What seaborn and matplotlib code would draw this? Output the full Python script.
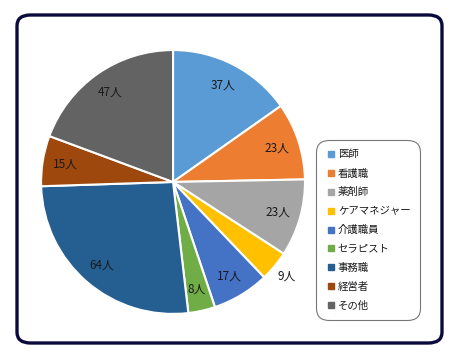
import numpy as np
import matplotlib
matplotlib.use('Agg')
import matplotlib.pyplot as plt
import seaborn as sns
from matplotlib.patches import FancyBboxPatch
from matplotlib.lines import Line2D

# data
categories = ['医師', '看護職', '薬剤師', 'ケアマネジャー', '介護職員', 'セラピスト', '事務職', '経営者', 'その他']
counts = [37, 23, 23, 9, 17, 8, 64, 15, 47]
value_labels = [f'{c}人' for c in counts]
outside = ['ケアマネジャー']  # label drawn outside the slice

sns.set_theme(style='white')
plt.rcParams['font.family'] = ['Noto Sans CJK JP', 'DejaVu Sans']

colors = sns.color_palette(['#5B9BD5', '#ED7D31', '#A5A5A5', '#FFC000', '#4472C4',
                            '#70AD47', '#255E91', '#9E480E', '#636363'])

fig = plt.figure(figsize=(4.5, 3.6), dpi=100)

# outer rounded frame
frame = FancyBboxPatch((17 / 450, 1 - 343 / 360), 425 / 450, 328 / 360,
                       boxstyle='round,pad=0,rounding_size=0.03',
                       transform=fig.transFigure, facecolor='none',
                       edgecolor='#0a0a3c', linewidth=2.4, zorder=5)
fig.patches.append(frame)

ax = fig.add_axes([0.091, 0.128, 0.587, 0.733])
wedges, _ = ax.pie(counts, colors=colors, startangle=90, counterclock=False,
                   radius=1.0, wedgeprops=dict(edgecolor='white', linewidth=1.5))
ax.set_xlim(-1, 1)
ax.set_ylim(-1, 1)
ax.set_aspect('equal')
ax.axis('off')

for w, lab, cat in zip(wedges, value_labels, categories):
    ang = np.deg2rad((w.theta1 + w.theta2) / 2)
    r = 1.12 if cat in outside else 0.83
    ax.text(r * np.cos(ang), r * np.sin(ang), lab, ha='center', va='center',
            fontsize=8.5, color='#1a1a1a', clip_on=False)

handles = [Line2D([0], [0], marker='s', linestyle='', markersize=5,
                  markerfacecolor=c, markeredgecolor=c) for c in colors]
leg = fig.legend(handles, categories, loc='upper left',
                 bbox_to_anchor=(316 / 450, 1 - 140 / 360),
                 frameon=True, fancybox=True, fontsize=7.5,
                 labelspacing=0.85, handletextpad=0.2, handlelength=1.0,
                 borderpad=0.9, borderaxespad=0)
for t in leg.get_texts():
    t.set_color('#1a1a1a')
leg.get_frame().set_edgecolor('#555555')
leg.get_frame().set_linewidth(0.8)
leg.get_frame().set_boxstyle('round', pad=0, rounding_size=1.2)

fig.savefig('out.png', dpi=100)
